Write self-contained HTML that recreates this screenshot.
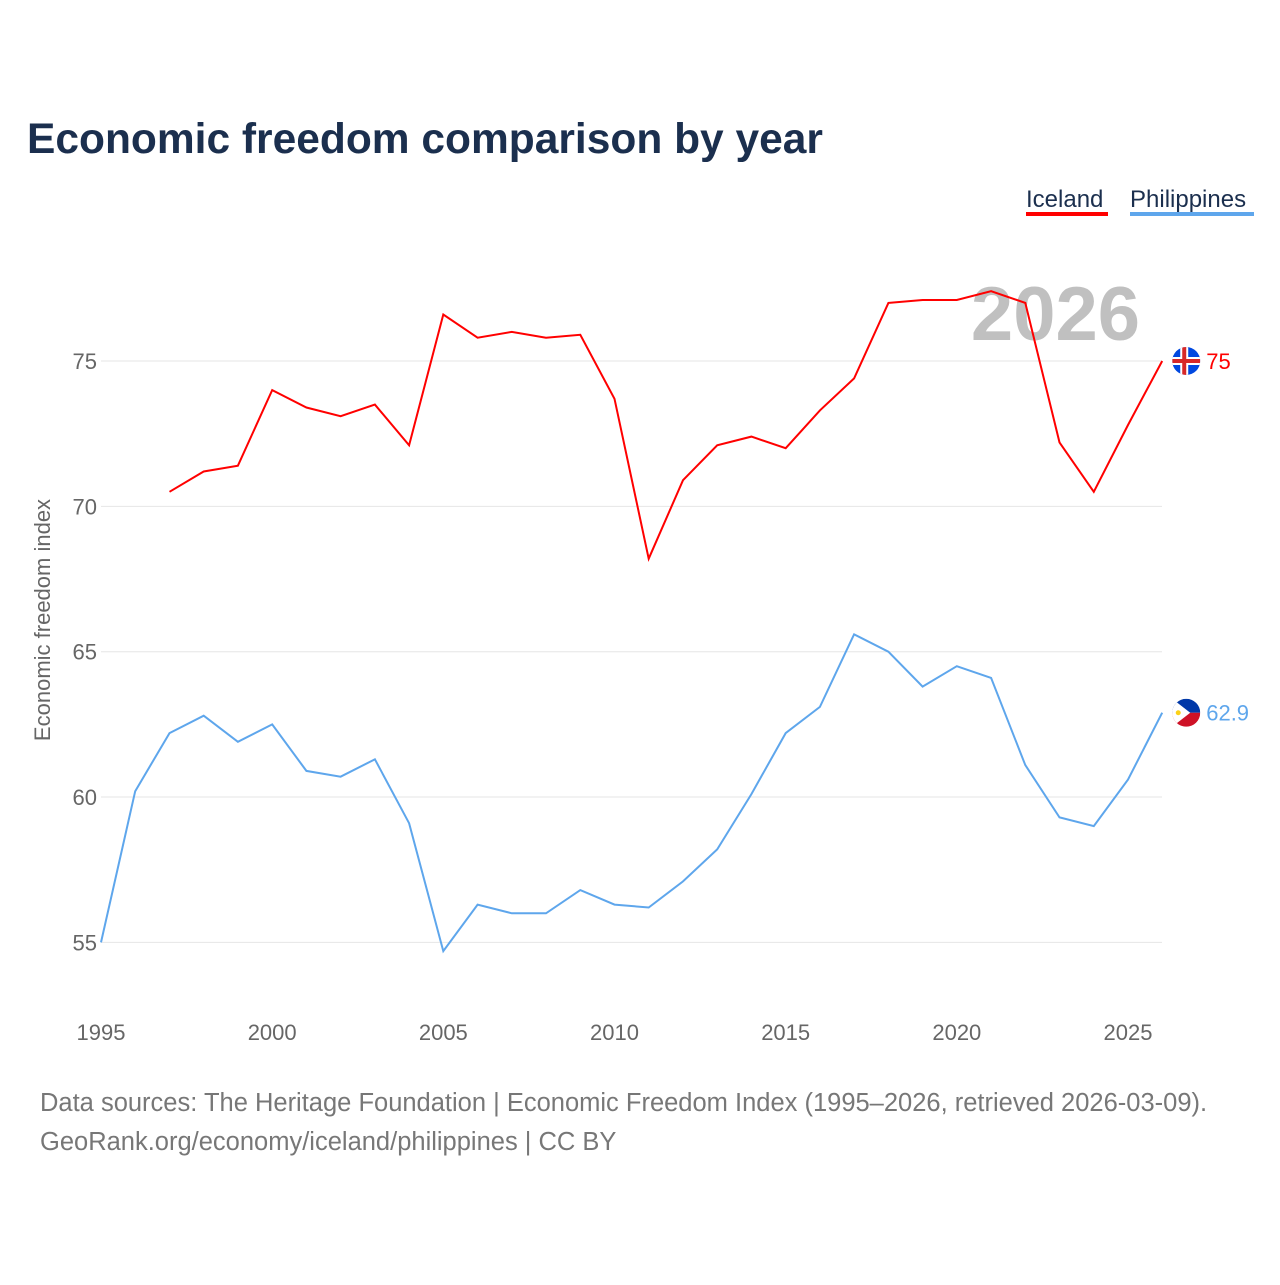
<!DOCTYPE html>
<html><head><meta charset="utf-8"><style>
body{margin:0;background:#fff;font-family:"Liberation Sans",sans-serif}
svg text{font-family:"Liberation Sans",sans-serif}
</style></head><body>
<svg id="chart" width="1280" height="1280" viewBox="0 0 1280 1280">
<defs>
<clipPath id="c1"><circle cx="0" cy="0" r="14"/></clipPath>
</defs>
<text x="27" y="153" font-size="42.5" font-weight="bold" fill="#1b2f4e">Economic freedom comparison by year</text>
<g>
<text x="1026" y="207" font-size="24" fill="#1b2f4e">Iceland</text>
<rect x="1026" y="212" width="82" height="4" fill="#ff0000"/>
<text x="1130" y="207" font-size="24" fill="#1b2f4e">Philippines</text>
<rect x="1130" y="212" width="124" height="4" fill="#5ea6ec"/>
</g>
<text x="1140" y="340" font-size="76" font-weight="bold" fill="#c0c0c0" text-anchor="end">2026</text>
<g id="grid"></g>
<g id="yt"></g>
<g id="xt"></g>
<text transform="translate(50,620) rotate(-90)" font-size="22" fill="#666" text-anchor="middle">Economic freedom index</text>
<g id="series"></g>
<text x="40" y="1111" font-size="25.5" fill="#777">Data sources: The Heritage Foundation | Economic Freedom Index (1995–2026, retrieved 2026-03-09).</text>
<text x="40" y="1150" font-size="25.5" fill="#777">GeoRank.org/economy/iceland/philippines | CC BY</text>
</svg>
<script>
const icelandYears=[1997,1998,1999,2000,2001,2002,2003,2004,2005,2006,2007,2008,2009,2010,2011,2012,2013,2014,2015,2016,2017,2018,2019,2020,2021,2022,2023,2024,2025,2026];
const icelandValues=[70.5,71.2,71.4,74.0,73.4,73.1,73.5,72.1,76.6,75.8,76.0,75.8,75.9,73.7,68.2,70.9,72.1,72.4,72.0,73.3,74.4,77.0,77.1,77.1,77.4,77.0,72.2,70.5,72.8,75.0];
const philYears=[1995,1996,1997,1998,1999,2000,2001,2002,2003,2004,2005,2006,2007,2008,2009,2010,2011,2012,2013,2014,2015,2016,2017,2018,2019,2020,2021,2022,2023,2024,2025,2026];
const philValues=[55.0,60.2,62.2,62.8,61.9,62.5,60.9,60.7,61.3,59.1,54.7,56.3,56.0,56.0,56.8,56.3,56.2,57.1,58.2,60.1,62.2,63.1,65.6,65.0,63.8,64.5,64.1,61.1,59.3,59.0,60.6,62.9];
const yTicks=[55,60,65,70,75];
const xTicks=[1995,2000,2005,2010,2015,2020,2025];
const NS='http://www.w3.org/2000/svg';
const X=y=>101+(y-1995)*(1027/30);
const Y=v=>361+(75-v)*29.07;
function mk(t,a,p){const e=document.createElementNS(NS,t);for(const k in a)e.setAttribute(k,a[k]);p.appendChild(e);return e;}
const grid=document.getElementById('grid'),yt=document.getElementById('yt'),xt=document.getElementById('xt'),ser=document.getElementById('series');
yTicks.forEach(v=>{
 const l=mk('line',{x1:101,x2:1162,y1:Y(v),y2:Y(v),stroke:'#e6e6e6','stroke-width':1},grid);
 
 
 const t=mk('text',{x:97,y:Y(v)+8,'font-size':22,fill:'#666','text-anchor':'end'},yt);t.textContent=v;
 
 
});
xTicks.forEach(v=>{
 const t=mk('text',{x:X(v),y:1040,'font-size':22,fill:'#666','text-anchor':'middle'},xt);t.textContent=v;
 
 
});
function flag(g,name){
 if(name==='iceland'){
  mk('rect',{x:-14,y:-14,width:28,height:28,fill:'#0048e0'},g);
  mk('rect',{x:-14,y:-4,width:28,height:8,fill:'#fff'},g);
  mk('rect',{x:-6,y:-14,width:8,height:28,fill:'#fff'},g);
  mk('rect',{x:-14,y:-2,width:28,height:4,fill:'#d72828'},g);
  mk('rect',{x:-4,y:-14,width:4,height:28,fill:'#d72828'},g);
 } else {
  mk('rect',{x:-14,y:-14,width:28,height:14,fill:'#0038a8'},g);
  mk('rect',{x:-14,y:0,width:28,height:14,fill:'#ce1126'},g);
  mk('polygon',{points:'-14,-14 4,0 -14,14',fill:'#fff'},g);
  mk('circle',{cx:-8,cy:0,r:2.5,fill:'#fcd116'},g);
 }
}
function line(years,vals,color,name){
 const d=years.map((y,i)=>(i?'L':'M')+X(y).toFixed(1)+','+Y(vals[i]).toFixed(1)).join('');
 const p=mk('path',{d:d,fill:'none',stroke:color,'stroke-width':2},ser);
 
 
 const ly=years[years.length-1],lv=vals[vals.length-1];
 const g=mk('g',{transform:'translate('+(X(ly)+24)+','+Y(lv)+')','clip-path':'url(#c1)'},ser);
 
 
 flag(g,name);
 const t=mk('text',{x:X(ly)+44,y:Y(lv)+8,'font-size':22,fill:color},ser);t.textContent=lv;
 
 
}
line(icelandYears,icelandValues,'#ff0000','iceland');
line(philYears,philValues,'#5ea6ec','philippines');
</script>
</body></html>
